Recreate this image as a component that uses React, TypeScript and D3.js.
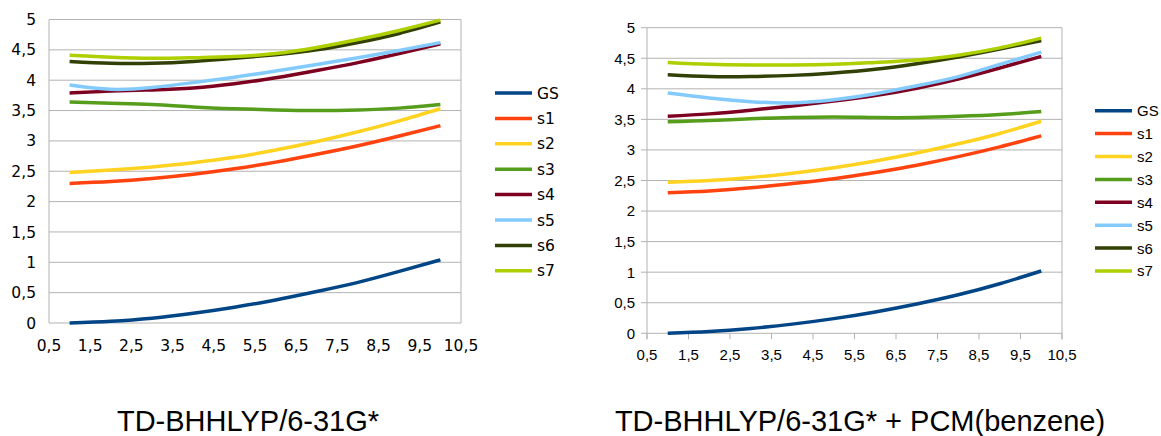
import React from "react";
import * as d3 from "d3";

const xValues = [1, 2, 3, 4, 5, 6, 7, 8, 9, 10];
const seriesNames = ["GS", "s1", "s2", "s3", "s4", "s5", "s6", "s7"];
const seriesColors = ["#004586", "#ff420e", "#ffd320", "#579d1c", "#7e0021", "#83caff", "#314004", "#aecf00"];
const xTicks = [0.5, 1.5, 2.5, 3.5, 4.5, 5.5, 6.5, 7.5, 8.5, 9.5, 10.5];
const yTicks = [0, 0.5, 1, 1.5, 2, 2.5, 3, 3.5, 4, 4.5, 5];

const leftGS = [0, 0.03, 0.08, 0.16, 0.26, 0.38, 0.52, 0.67, 0.85, 1.04];
const leftS1 = [2.30, 2.33, 2.38, 2.45, 2.54, 2.65, 2.78, 2.92, 3.08, 3.25];
const leftS2 = [2.48, 2.52, 2.57, 2.64, 2.73, 2.85, 2.99, 3.15, 3.33, 3.53];
const leftS3 = [3.64, 3.62, 3.60, 3.56, 3.53, 3.51, 3.50, 3.51, 3.54, 3.60];
const leftS4 = [3.79, 3.82, 3.84, 3.87, 3.94, 4.04, 4.16, 4.29, 4.44, 4.60];
const leftS5 = [3.92, 3.85, 3.88, 3.96, 4.05, 4.15, 4.26, 4.37, 4.49, 4.62];
const leftS6 = [4.31, 4.28, 4.28, 4.31, 4.36, 4.42, 4.50, 4.62, 4.77, 4.96];
const leftS7 = [4.41, 4.38, 4.36, 4.37, 4.39, 4.44, 4.54, 4.67, 4.82, 4.99];

const rightGS = [0, 0.03, 0.08, 0.15, 0.24, 0.35, 0.48, 0.63, 0.81, 1.02];
const rightS1 = [2.30, 2.33, 2.38, 2.45, 2.53, 2.63, 2.75, 2.89, 3.05, 3.23];
const rightS2 = [2.47, 2.50, 2.55, 2.62, 2.71, 2.82, 2.95, 3.10, 3.27, 3.47];
const rightS3 = [3.46, 3.48, 3.51, 3.53, 3.54, 3.53, 3.53, 3.55, 3.58, 3.63];
const rightS4 = [3.55, 3.59, 3.65, 3.72, 3.80, 3.89, 4.01, 4.16, 4.34, 4.53];
const rightS5 = [3.93, 3.85, 3.79, 3.77, 3.82, 3.92, 4.05, 4.20, 4.40, 4.60];
const rightS6 = [4.23, 4.20, 4.20, 4.22, 4.26, 4.32, 4.41, 4.52, 4.65, 4.79];
const rightS7 = [4.43, 4.40, 4.39, 4.39, 4.40, 4.43, 4.47, 4.55, 4.67, 4.83];

const leftTitle = "TD-BHHLYP/6-31G*";
const rightTitle = "TD-BHHLYP/6-31G* + PCM(benzene)";

type ChartCfg = {
  data: number[][];
  x0: number; x1: number; yTop: number; yBot: number;
  font: string; fontSize: number;
  tickLen: number;
  yLabelGap: number; xLabelBase: number;
  legX: number; legY: number; legStep: number;
  title: string; titleX: number;
};

function Chart({ c }: { c: ChartCfg }) {
  const x = d3.scaleLinear().domain([0.5, 10.5]).range([c.x0, c.x1]);
  const y = d3.scaleLinear().domain([0, 5]).range([c.yBot, c.yTop]);
  const line = d3.line<number>().x((_, i) => x(xValues[i])).y((v) => y(v)).curve(d3.curveNatural);
  const grid = "#b3b3b3";
  return (
    <g>
      {yTicks.map((t) => (
        <line key={"g" + t} x1={c.x0 - c.tickLen} x2={c.x1} y1={y(t)} y2={y(t)} stroke={grid} strokeWidth={1} />
      ))}
      <line x1={c.x0} x2={c.x0} y1={c.yTop} y2={c.yBot + c.tickLen} stroke={grid} strokeWidth={1} />
      <line x1={c.x1} x2={c.x1} y1={c.yTop} y2={c.yBot + c.tickLen} stroke={grid} strokeWidth={1} />
      {c.tickLen > 0 && xTicks.map((t) => (
        <line key={"xt" + t} x1={x(t)} x2={x(t)} y1={c.yBot} y2={c.yBot + c.tickLen} stroke={grid} strokeWidth={1} />
      ))}
      {yTicks.map((t) => (
        <text key={"yl" + t} x={c.x0 - c.yLabelGap} y={y(t)} dy="0.36em" textAnchor="end"
          fontFamily={c.font} fontSize={c.fontSize} fill="#000">
          {String(t).replace(".", ",")}
        </text>
      ))}
      {xTicks.map((t) => (
        <text key={"xl" + t} x={x(t)} y={c.xLabelBase} textAnchor="middle"
          fontFamily={c.font} fontSize={c.fontSize} fill="#000">
          {String(t).replace(".", ",")}
        </text>
      ))}
      {c.data.map((s, i) => (
        <path key={"s" + i} d={line(s) || ""} fill="none" stroke={seriesColors[i]} strokeWidth={3.5} strokeLinecap="butt" />
      ))}
      {seriesNames.map((n, i) => (
        <g key={"lg" + n}>
          <line x1={c.legX} x2={c.legX + 37} y1={c.legY + i * c.legStep} y2={c.legY + i * c.legStep}
            stroke={seriesColors[i]} strokeWidth={3.5} />
          <text x={c.legX + 42} y={c.legY + i * c.legStep} dy="0.36em" fontFamily={c.font}
            fontSize={c.fontSize} fill="#000">{n}</text>
        </g>
      ))}
      <text x={c.titleX} y={431} textAnchor="middle" fontFamily="'Liberation Sans', Arial, sans-serif"
        fontSize={29} fill="#000">{c.title}</text>
    </g>
  );
}

export default function App() {
  const left: ChartCfg = {
    data: [leftGS, leftS1, leftS2, leftS3, leftS4, leftS5, leftS6, leftS7],
    x0: 49, x1: 461, yTop: 19.5, yBot: 323,
    font: "'DejaVu Sans', sans-serif", fontSize: 15.5, tickLen: 0,
    yLabelGap: 13, xLabelBase: 351,
    legX: 495, legY: 93, legStep: 25.4,
    title: leftTitle, titleX: 248,
  };
  const right: ChartCfg = {
    data: [rightGS, rightS1, rightS2, rightS3, rightS4, rightS5, rightS6, rightS7],
    x0: 647, x1: 1062, yTop: 27.7, yBot: 333.3,
    font: "'Liberation Sans', Arial, sans-serif", fontSize: 15, tickLen: 6,
    yLabelGap: 12, xLabelBase: 360,
    legX: 1095, legY: 110.7, legStep: 22.9,
    title: rightTitle, titleX: 860,
  };
  return (
    <svg width={1161} height={436} style={{ position: "absolute", left: 0, top: 0, background: "#fff" }}>
      <rect width={1161} height={436} fill="#fff" />
      <Chart c={left} />
      <Chart c={right} />
    </svg>
  );
}
